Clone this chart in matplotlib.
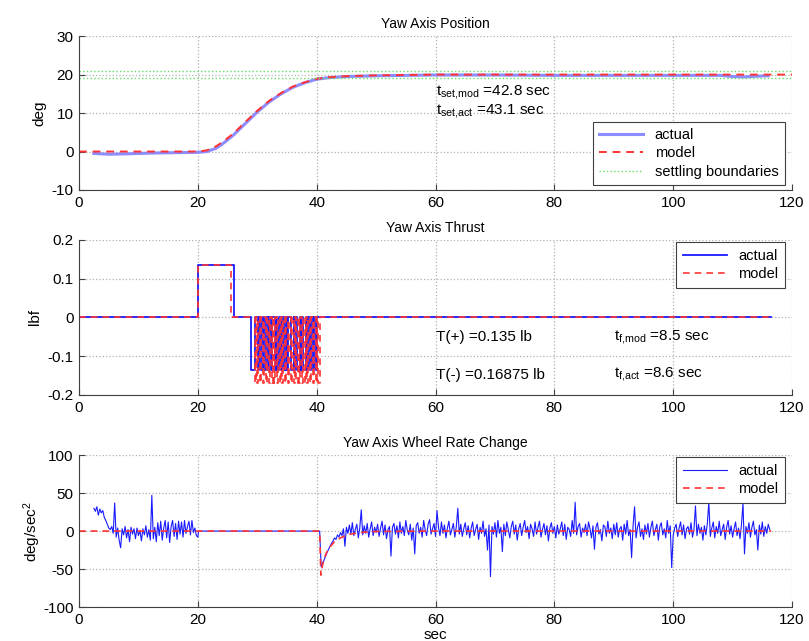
# Three stacked MATLAB-style panels: yaw position, thrust and wheel rate change
import numpy as np
import matplotlib
matplotlib.use('Agg')
import matplotlib.pyplot as plt
from matplotlib.ticker import FormatStrFormatter

plt.rcParams['font.family'] = ['Liberation Sans', 'DejaVu Sans']
plt.rcParams['mathtext.fontset'] = 'custom'
plt.rcParams['mathtext.rm'] = 'Liberation Sans'
plt.rcParams['mathtext.it'] = 'Liberation Sans'
plt.rcParams['axes.unicode_minus'] = False

# ---- Panel 1: yaw axis position (deg) ----
pos_act_t = [2.5, 5, 8, 12, 16, 20, 21.5, 23, 24, 26, 28, 30, 32, 34, 36, 38, 40, 42,
             45, 50, 55, 60, 70, 80, 90, 100, 108, 110, 112, 114, 116]
pos_act = [-0.5, -0.7, -0.6, -0.4, -0.3, -0.2, 0.0, 0.8, 1.8, 4.3, 7.3, 10.3, 12.9, 15.0,
           16.7, 17.9, 18.8, 19.2, 19.5, 19.7, 19.8, 19.9, 19.9, 19.8, 19.8, 19.8, 19.8,
           19.5, 19.4, 19.6, 19.7]
pos_mod_t = [0, 10, 20, 21.5, 23, 24, 26, 28, 30, 32, 34, 36, 38, 40, 42, 45, 50, 55,
             60, 80, 100, 120]
pos_mod = [0, 0, 0, 0.3, 1.3, 2.3, 4.7, 7.7, 10.6, 13.2, 15.2, 16.9, 18.0, 18.9, 19.3,
           19.6, 19.8, 19.9, 20.0, 20.0, 20.0, 20.0]
settle_hi = 21
settle_lo = 19

# ---- Panel 2: yaw axis thrust (lbf) ----
thr_pos = 0.135
thr_neg = -0.16875
thr_neg_act = -0.135
thr_pos_act_on, thr_pos_act_off = 20.0, 26.0
thr_pos_mod_on, thr_pos_mod_off = 20.0, 25.5
neg_act_on = [29.0, 30.1, 30.7, 31.2, 31.8, 32.3, 32.9, 33.4, 34.0, 34.5, 35.0, 35.6,
              36.1, 36.7, 37.2, 37.7, 38.3, 38.8, 39.3, 39.8]
neg_act_off = [29.7, 30.3, 30.9, 31.4, 32.0, 32.5, 33.1, 33.6, 34.2, 34.9, 35.2, 36.1,
               36.3, 37.4, 37.4, 38.2, 38.5, 39.0, 39.5, 40.0]
neg_mod_on = [29.6, 30.0, 30.5, 31.0, 31.4, 31.9, 32.4, 32.8, 33.3, 33.8, 34.2, 34.7,
              35.2, 35.6, 36.1, 36.6, 37.0, 37.5, 38.0, 38.4, 38.9, 39.4, 39.8, 40.2]
neg_mod_off = [29.8, 30.2, 30.7, 31.2, 31.6, 32.1, 32.6, 33.0, 33.5, 34.0, 34.4, 34.9,
               35.4, 35.8, 36.3, 36.8, 37.2, 37.7, 38.2, 38.6, 39.1, 39.6, 40.0, 40.5]
thr_end = 116.5

# ---- Panel 3: yaw axis wheel rate change (deg/sec^2) ----
# actual, 2.5 s .. 20 s
wr_a = [30, 26, 32, 21, 29, 24, 27, 18, 14, 9, 4, 2, 6, -3, 37, -8, 4, -12, -22, 3,
        -5, 6, -9, 2, -14, 5, -4, 3, -10, 4, -6, 1, -13, 3, -5, 7, -8, 2, -12, 47,
        -10, 5, -14, 11, -6, 13, -12, 4, 14, -9, 12, -15, 6, 14, -7, 10, -11, 13, -4, 12,
        -8, 14, -3, 6, 13, -5, 14, -2, 4, -6, -8]
# actual, 40.5 s .. 116.25 s
wr_b = [0, -47, -42, -38, -33, -28, -24, -20, -16, -13, -9, -11, -5, -8, -2, -6, 3, -20, 5, -3,
        8, -4, 11, -6, 2, 9, -9, 4, 28, -5, 7, -3, 10, -8, 3, 12, -6, 5, -2, 9,
        -7, 4, 13, -5, 8, -10, 2, 6, -33, 5, 10, -4, 7, -9, 12, -3, 6, -6, 14, 1,
        -5, 9, -12, 4, -30, 7, 11, -3, 5, -8, 14, 2, -6, 9, 15, -4, 3, 10, -7, 27,
        5, -6, 12, -3, 8, -9, 4, 13, -5, 2, 10, -8, 6, 30, -4, 9, -7, 3, 11, -5,
        7, -9, 4, 12, -6, 2, 9, -11, 5, -3, 13, -7, 3, -25, 8, -60, 6, -4, 11, -8,
        14, -3, 5, -27, 9, -6, 12, 2, -9, 6, 13, -4, 8, -12, 3, 10, -6, 5, 14, -2,
        6, -10, 9, 3, -7, 12, -4, 5, 13, -8, 2, 10, -5, 7, -13, 4, 11, -3, 6, -9,
        8, -4, 3, 12, -6, 9, -11, 5, 2, -7, 14, -3, 38, -5, 6, 10, -8, 4, -2, 9,
        -6, 12, 3, -9, 7, -24, 5, 11, -4, 2, -13, 8, 6, -7, 13, -3, 4, -10, 9, -5,
        11, -8, 3, 6, -12, 9, -4, 14, -6, 2, -35, 7, 32, -9, 5, 12, -7, 3, -11, 8,
        -4, 10, -8, 5, 13, -6, 2, 9, -12, 6, 11, -5, 3, -9, 14, -3, 7, -48, -6, 4,
        9, -7, 4, 12, -5, 8, -10, 3, 6, -4, 11, -8, 2, 33, -6, 9, -3, 5, -12, 7,
        -5, 10, 38, -7, 4, 12, -9, 6, -3, 13, -6, 2, 9, -11, 5, 14, -4, 7, -8, 3,
        12, -6, 4, -10, 9, 37, -30, 6, -3, 11, -8, 5, 13, -5, 2, -25, 8, -4, 12, -7,
        6, -3, 9, 2]
wr_mod_t = [0, 40.5, 40.7, 41.0, 41.5, 42.0, 43.0, 44.0, 45.0, 46.0, 48.0, 50.0, 60.0, 116.5]
wr_mod = [0, 0, -58, -44, -31, -23, -14, -9, -5.5, -3.5, -1.5, -0.5, 0, 0]

BLUE = '#1a1aff'
RED = '#ff3333'
GRID = dict(color='#b0b0b0', linestyle=':', linewidth=0.9)


def pulses(on, off, level, t0, t1):
    # step polyline from switch-on / switch-off times
    t, v = [t0], [0]
    for a, b in zip(on, off):
        t += [a, a, b, b]
        v += [0, level, level, 0]
    t.append(t1)
    v.append(0)
    return t, v


def style(ax, yticks, ylim):
    ax.set_xlim(0, 120)
    ax.set_ylim(*ylim)
    ax.set_xticks([0, 20, 40, 60, 80, 100, 120])
    ax.set_yticks(yticks)
    ax.yaxis.set_major_formatter(FormatStrFormatter('%g'))
    ax.grid(True, **GRID)
    ax.spines['top'].set_visible(False)
    ax.spines['right'].set_visible(False)
    ax.spines['left'].set_color('#404040')
    ax.spines['bottom'].set_color('#404040')
    ax.tick_params(direction='in', labelsize=11, length=4, color='#404040', pad=4)


def legend(ax, loc, anchor):
    leg = ax.legend(loc=loc, fontsize=10.5, fancybox=False, framealpha=1,
                    edgecolor='#404040', handlelength=3.0, borderpad=0.45,
                    labelspacing=0.3, borderaxespad=0, bbox_to_anchor=anchor)
    leg.get_frame().set_linewidth(0.8)


fig = plt.figure(figsize=(8.09, 6.41), dpi=100)
ax1 = fig.add_axes([0.0977, 0.7036, 0.8813, 0.240])
ax2 = fig.add_axes([0.0977, 0.3838, 0.8813, 0.242])
ax3 = fig.add_axes([0.0977, 0.0530, 0.8813, 0.237])

# panel 1
ax1.plot(pos_act_t, pos_act, color='#8c8cff', lw=2.2, label='actual')
ax1.plot(pos_mod_t, pos_mod, color=RED, lw=1.4, ls=(0, (4, 3)), label='model')
ax1.axhline(settle_hi, color='#66dd66', lw=1, ls=':', label='settling boundaries')
ax1.axhline(settle_lo, color='#66dd66', lw=1, ls=':')
style(ax1, [-10, 0, 10, 20, 30], (-10, 30))
ax1.set_title('Yaw Axis Position', fontsize=10, pad=6)
ax1.set_ylabel('deg', fontsize=11, labelpad=4)
ax1.text(60, 14.8, r'$\mathregular{t_{set{,}mod}}$ =42.8 sec', fontsize=11)
ax1.text(60, 9.8, r'$\mathregular{t_{set{,}act}}$ =43.1 sec', fontsize=11)
legend(ax1, 'lower right', (0.99, 0.03))

# panel 2
t_a, v_a = pulses([thr_pos_act_on], [thr_pos_act_off], thr_pos, 0, 28.9)
t_n, v_n = pulses(neg_act_on, neg_act_off, thr_neg_act, 28.9, thr_end)
t_m, v_m = pulses([thr_pos_mod_on], [thr_pos_mod_off], thr_pos, 0, 29.5)
t_mn, v_mn = pulses(neg_mod_on, neg_mod_off, thr_neg, 29.5, thr_end)
ax2.plot(t_a + t_n, v_a + v_n, color=BLUE, lw=1.3, label='actual')
ax2.plot(t_m + t_mn, v_m + v_mn, color=RED, lw=1.2, ls=(0, (4, 3)), label='model')
style(ax2, [-0.2, -0.1, 0, 0.1, 0.2], (-0.2, 0.2))
ax2.set_title('Yaw Axis Thrust', fontsize=10, pad=6)
ax2.set_ylabel('lbf', fontsize=11, labelpad=4)
ax2.text(60, -0.05, 'T(+) =0.135 lb', fontsize=11, va='center')
ax2.text(60, -0.148, 'T(-) =0.16875 lb', fontsize=11, va='center')
ax2.text(90, -0.05, r'$\mathregular{t_{f{,}mod}}$ =8.5 sec', fontsize=11, va='center')
ax2.text(90, -0.145, r'$\mathregular{t_{f{,}act}}$ =8.6 sec', fontsize=11, va='center')
legend(ax2, 'upper right', (0.99, 0.985))

# panel 3
t_a = list(np.linspace(2.5, 20.0, len(wr_a))) + [20.1, 40.4] + \
    list(np.linspace(40.5, 116.25, len(wr_b)))
v_a = wr_a + [0, 0] + wr_b
ax3.plot(t_a, v_a, color=BLUE, lw=0.8, label='actual')
ax3.plot(wr_mod_t, wr_mod, color=RED, lw=1.2, ls=(0, (4, 3)), label='model')
style(ax3, [-100, -50, 0, 50, 100], (-100, 100))
ax3.set_title('Yaw Axis Wheel Rate Change', fontsize=10, pad=6)
ax3.set_ylabel(r'deg/sec$^2$', fontsize=11, labelpad=0)
ax3.set_xlabel('sec', fontsize=11, labelpad=1)
legend(ax3, 'upper right', (0.99, 0.985))

fig.savefig('out.png', dpi=100)
